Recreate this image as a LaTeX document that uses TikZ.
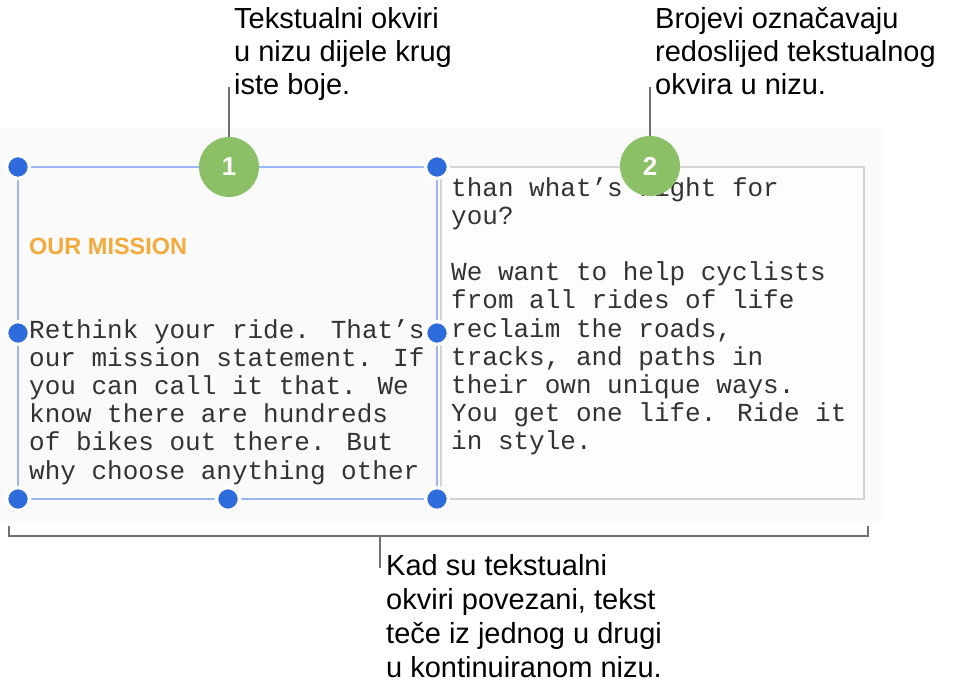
\documentclass[tikz,border=0pt]{standalone}
\usepackage{fontspec}
\setmainfont{Liberation Sans}
\newfontfamily\monof{Liberation Mono}
\usetikzlibrary{shadows}
\definecolor{bgfill}{HTML}{FAFAFA}
\definecolor{numgreen}{HTML}{8CC066}
\definecolor{handleblue}{HTML}{2E6BDB}
\definecolor{selblue}{HTML}{9AB5F3}
\definecolor{boxgray}{HTML}{D3D3D3}
\definecolor{leadgray}{HTML}{707070}
\definecolor{missionorange}{HTML}{F4AA3B}
\definecolor{bodytext}{HTML}{333333}
\tikzset{
  callout/.style={anchor=base west, inner sep=0, font=\fontsize{29}{33}\selectfont, text=black},
  monoline/.style={anchor=base west, inner sep=0, font=\monof\fontsize{26}{28}\selectfont, text=bodytext},
  handle/.style={circle, fill=handleblue, draw=white, line width=3.5pt, minimum size=23pt, inner sep=0,
    drop shadow={shadow xshift=0pt, shadow yshift=-1pt, shadow scale=1.06, fill=black, opacity=0.22}},
  numcircle/.style={circle, fill=numgreen, minimum size=60pt, inner sep=0, text=white,
    font=\bfseries\fontsize{26}{26}\selectfont},
  leader/.style={draw=leadgray, line width=1.6pt},
  bracketline/.style={draw=leadgray, line width=2pt},
}
\begin{document}
\begin{tikzpicture}[x=1pt,y=-1pt]
\useasboundingbox (0,0) rectangle (953,697);
% background panel
\fill[bgfill] (0,128) rectangle (881,522);
% text boxes
\node[draw=boxgray, line width=2.5pt, fill=white!60!bgfill, minimum width=423pt, minimum height=332pt, inner sep=0] (box2) at (652.5,333) {};
\node[draw=selblue, line width=2pt, minimum width=419pt, minimum height=332pt, inner sep=0] (box1) at (227.5,333) {};
% box 1 text
\node[anchor=base west, inner sep=0, font=\bfseries\fontsize{23.5}{24}\selectfont, text=missionorange] (mission) at (29,254) {OUR MISSION};
\node[monoline] (a1) at (29,338.0) {Rethink your ride. That’s};
\node[monoline] (a2) at (29,366.2) {our mission statement. If};
\node[monoline] (a3) at (29,394.4) {you can call it that. We};
\node[monoline] (a4) at (29,422.6) {know there are hundreds};
\node[monoline] (a5) at (29,450.8) {of bikes out there. But};
\node[monoline] (a6) at (29,479.0) {why choose anything other};
% box 2 text
\node[monoline] (b1) at (451,196.0) {than what’s right for};
\node[monoline] (b2) at (451,224.2) {you?};
\node[monoline] (b3) at (451,280.6) {We want to help cyclists};
\node[monoline] (b4) at (451,308.8) {from all rides of life};
\node[monoline] (b5) at (451,337.0) {reclaim the roads,};
\node[monoline] (b6) at (451,365.2) {tracks, and paths in};
\node[monoline] (b7) at (451,393.4) {their own unique ways.};
\node[monoline] (b8) at (451,421.6) {You get one life. Ride it};
\node[monoline] (b9) at (451,449.8) {in style.};
% leaders and number circles
\coordinate (l1top) at (229,87);
\coordinate (l2top) at (650,87);
\node[numcircle] (c1) at (229,167) {1};
\node[numcircle] (c2) at (650,166) {2};
\draw[leader] (l1top) -- (c1.north);
\draw[leader] (l2top) -- (c2.north);
% handles
\node[handle] (h1) at (18,167) {};
\node[handle] (h2) at (437,167) {};
\node[handle] (h3) at (18,333) {};
\node[handle] (h4) at (437,333) {};
\node[handle] (h5) at (18,499) {};
\node[handle] (h6) at (228,499) {};
\node[handle] (h7) at (437,499) {};
% callout texts
\node[callout] (t1a) at (234,28) {Tekstualni okviri};
\node[callout] (t1b) at (234,61) {u nizu dijele krug};
\node[callout] (t1c) at (234,94) {iste boje.};
\node[callout] (t2a) at (655,28) {Brojevi označavaju};
\node[callout] (t2b) at (655,61) {redoslijed tekstualnog};
\node[callout] (t2c) at (655,94) {okvira u nizu.};
\node[callout] (t3a) at (386,575) {Kad su tekstualni};
\node[callout] (t3b) at (386,609) {okviri povezani, tekst};
\node[callout] (t3c) at (386,643) {teče iz jednog u drugi};
\node[callout] (t3d) at (386,677) {u kontinuiranom nizu.};
% bracket
\coordinate (brL) at (9,526);
\coordinate (brR) at (868,526);
\coordinate (brM) at (380,536);
\coordinate (brT) at (380,568);
\draw[bracketline] (brL) -- (9,536) -- (868,536) -- (brR);
\draw[leader] (brM) -- (brT);
\end{tikzpicture}
\end{document}
